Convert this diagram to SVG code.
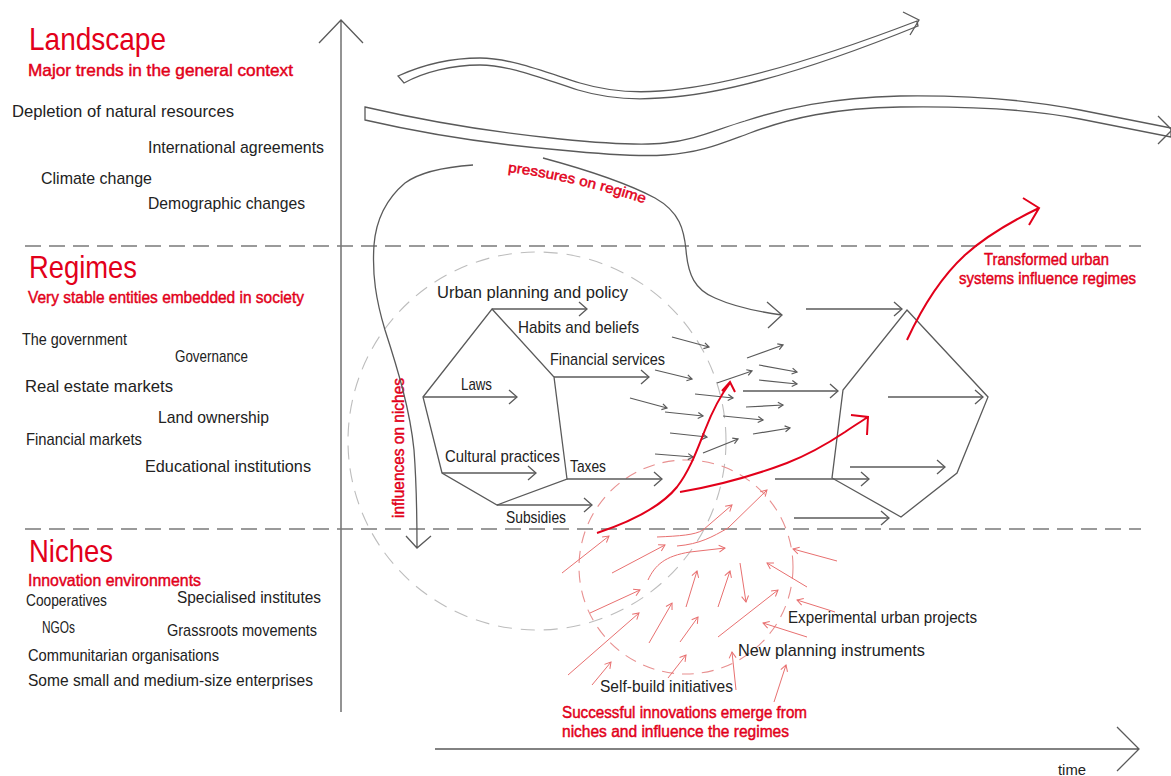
<svg xmlns="http://www.w3.org/2000/svg" width="1171" height="776" viewBox="0 0 1171 776">
<defs>
<style>
text{font-family:"Liberation Sans",Arial,sans-serif;}
.k{fill:#222;font-size:17px;}
.c{fill:#222;font-size:17px;}
.h{fill:#e2001a;font-size:32px;}
.s{fill:#e2001a;font-size:17px;stroke:#e2001a;stroke-width:0.45;}
.r{fill:#e2001a;font-size:16px;stroke:#e2001a;stroke-width:0.45;}
.ln{fill:none;stroke:#5a5a5a;stroke-width:1.3;}
.big{fill:none;stroke:#5a5a5a;stroke-width:1.3;marker-end:url(#mb);}
.sm{fill:none;stroke:#5a5a5a;stroke-width:1.2;marker-end:url(#ms);}
.nr{fill:none;stroke:#e87070;stroke-width:1;marker-end:url(#mr);}
.red{fill:none;stroke:#e2001a;stroke-width:2;}
.dash{fill:none;stroke:#7a7a7a;stroke-width:1.3;stroke-dasharray:16 8;}
</style>
<marker id="mb" viewBox="-10 -10 20 20" markerWidth="20" markerHeight="20" refX="0" refY="0" orient="auto" markerUnits="userSpaceOnUse"><path d="M-8,-7 L0,0 L-8,7" fill="none" stroke="#5a5a5a" stroke-width="1.3"/></marker>
<marker id="ms" viewBox="-10 -10 20 20" markerWidth="20" markerHeight="20" refX="0" refY="0" orient="auto" markerUnits="userSpaceOnUse"><path d="M-5,-3 L0,0 L-5,3" fill="none" stroke="#5a5a5a" stroke-width="1.2"/></marker>
<marker id="mr" viewBox="-10 -10 20 20" markerWidth="20" markerHeight="20" refX="0" refY="0" orient="auto" markerUnits="userSpaceOnUse"><path d="M-6,-3.5 L0,0 L-6,3.5" fill="none" stroke="#e87070" stroke-width="1"/></marker>
<path id="pp" d="M508,172 C550,177 600,189 643,203"/>
</defs>
<rect width="1171" height="776" fill="#fff"/>

<g id="axes">
<path class="ln" d="M341,712 L341,20 M319,43 L341,20 L363,43"/>
<path class="ln" d="M435,749 L1139,749 M1117,727 L1139,749 L1117,771"/>
<text x="1058" y="775" class="k" style="font-size:14px" textLength="28" lengthAdjust="spacingAndGlyphs">time</text>
</g>

<g id="dividers">
<path class="dash" d="M25,246 L1141,246"/>
<path class="dash" d="M25,529 L1141,529"/>
</g>

<g id="circles">
<circle cx="537" cy="441" r="189" fill="none" stroke="#bdbdbd" stroke-width="1.1" stroke-dasharray="14 9"/>
<circle cx="686" cy="567" r="107" fill="none" stroke="#e89090" stroke-width="1.1" stroke-dasharray="12 8"/>
</g>

<g id="landscape-label">
<text x="29" y="50" class="h" textLength="137" lengthAdjust="spacingAndGlyphs">Landscape</text>
<text x="28" y="76" class="s" textLength="265" lengthAdjust="spacingAndGlyphs">Major trends in the general context</text>
<text x="12" y="117" class="k" textLength="222" lengthAdjust="spacingAndGlyphs">Depletion of natural resources</text>
<text x="148" y="153" class="k" textLength="176" lengthAdjust="spacingAndGlyphs">International agreements</text>
<text x="41" y="184" class="k" textLength="111" lengthAdjust="spacingAndGlyphs">Climate change</text>
<text x="148" y="209" class="k" textLength="157" lengthAdjust="spacingAndGlyphs">Demographic changes</text>
</g>

<g id="regimes-label">
<text x="29" y="278" class="h" textLength="108" lengthAdjust="spacingAndGlyphs">Regimes</text>
<text x="28" y="303" class="s" textLength="276" lengthAdjust="spacingAndGlyphs">Very stable entities embedded in society</text>
<text x="22" y="345" class="k" textLength="105" lengthAdjust="spacingAndGlyphs">The government</text>
<text x="175" y="362" class="k" textLength="73" lengthAdjust="spacingAndGlyphs">Governance</text>
<text x="25" y="392" class="k" textLength="148" lengthAdjust="spacingAndGlyphs">Real estate markets</text>
<text x="158" y="423" class="k" textLength="111" lengthAdjust="spacingAndGlyphs">Land ownership</text>
<text x="26" y="445" class="k" textLength="116" lengthAdjust="spacingAndGlyphs">Financial markets</text>
<text x="145" y="472" class="k" textLength="166" lengthAdjust="spacingAndGlyphs">Educational institutions</text>
</g>

<g id="niches-label">
<text x="29" y="562" class="h" textLength="84" lengthAdjust="spacingAndGlyphs">Niches</text>
<text x="28" y="586" class="s" textLength="173" lengthAdjust="spacingAndGlyphs">Innovation environments</text>
<text x="26" y="606" class="k" textLength="81" lengthAdjust="spacingAndGlyphs">Cooperatives</text>
<text x="177" y="603" class="k" textLength="144" lengthAdjust="spacingAndGlyphs">Specialised institutes</text>
<text x="42" y="633" class="k" textLength="33" lengthAdjust="spacingAndGlyphs">NGOs</text>
<text x="167" y="636" class="k" textLength="150" lengthAdjust="spacingAndGlyphs">Grassroots movements</text>
<text x="28" y="661" class="k" textLength="191" lengthAdjust="spacingAndGlyphs">Communitarian organisations</text>
<text x="28" y="686" class="k" textLength="285" lengthAdjust="spacingAndGlyphs">Some small and medium-size enterprises</text>
</g>

<g id="landscape-trends">
<path d="M398,76 C420,66 450,58 480,58 C510,58 545,72 580,83 C610,92 635,93 660,91 C720,87 810,62 917,21 L918,26 C812,69 722,95 660,98 C635,100 608,99 578,90 C543,79 510,65 480,65 C452,65 424,72 404,83 Z" fill="#fff" stroke="#5a5a5a" stroke-width="1.3"/>
<path class="ln" d="M903,12 L919,20 L910,35"/>
<path d="M365,107 C430,122 500,133 560,139 C600,143 640,146 665,143 C695,140 715,130 745,121 C785,108 830,98 900,96 C970,95 1030,100 1080,110 C1120,118 1150,124 1171,128 L1171,137 C1150,133 1120,127 1080,119 C1030,109 970,106 900,107 C835,108 790,118 750,133 C720,144 700,153 665,155 C635,157 600,154 560,150 C500,145 430,135 365,120 Z" fill="#fff" stroke="#5a5a5a" stroke-width="1.3"/>
<path class="ln" d="M1158,116 L1172,130 L1158,144"/>
</g>

<g id="regime-left">
<path class="ln" d="M492,309 L554,377 L567,479 L497,505 L442,473 L423,397 Z"/>
<text x="437" y="298" class="c" textLength="191" lengthAdjust="spacingAndGlyphs">Urban planning and policy</text>
<text x="518" y="333" class="c" textLength="121" lengthAdjust="spacingAndGlyphs">Habits and beliefs</text>
<text x="550" y="365" class="c" textLength="115" lengthAdjust="spacingAndGlyphs">Financial services</text>
<text x="461" y="390" class="c" textLength="31" lengthAdjust="spacingAndGlyphs">Laws</text>
<text x="445" y="462" class="c" textLength="115" lengthAdjust="spacingAndGlyphs">Cultural practices</text>
<text x="570" y="472" class="c" textLength="36" lengthAdjust="spacingAndGlyphs">Taxes</text>
<text x="506" y="523" class="c" textLength="60" lengthAdjust="spacingAndGlyphs">Subsidies</text>
</g>

<g id="regime-right">
<path class="ln" d="M907,310 L988,397 L957,473 L901,517 L832,478 L843,390 Z"/>
</g>

<g id="labels-red">
<text class="r" style="font-size:14px"><textPath href="#pp" textLength="140" lengthAdjust="spacingAndGlyphs">pressures on regime</textPath></text>
<text x="404" y="518" class="r" transform="rotate(-90 404 518)" textLength="140" lengthAdjust="spacingAndGlyphs">influences on niches</text>
<text x="984" y="265" class="r" textLength="125" lengthAdjust="spacingAndGlyphs">Transformed urban</text>
<text x="959" y="284" class="r" textLength="177" lengthAdjust="spacingAndGlyphs">systems influence regimes</text>
<text x="562" y="718" class="r" textLength="245" lengthAdjust="spacingAndGlyphs">Successful innovations emerge from</text>
<text x="562" y="737" class="r" textLength="227" lengthAdjust="spacingAndGlyphs">niches and influence the regimes</text>
</g>

<g id="niche-items">
<text x="600" y="692" class="c" textLength="133" lengthAdjust="spacingAndGlyphs">Self-build initiatives</text>
<text x="738" y="656" class="c" textLength="187" lengthAdjust="spacingAndGlyphs">New planning instruments</text>
<text x="788" y="623" class="c" textLength="189" lengthAdjust="spacingAndGlyphs">Experimental urban projects</text>
</g>

<g id="connectors">
<path class="ln" d="M473,165 C445,167 420,172 405,183 C385,200 376,220 374,245 C372,275 376,300 385,330 C398,370 410,410 414,450 C417,490 417,520 417,548 M406,536 L417,548 L431,536"/>
<path class="ln" d="M543,158 C580,168 625,182 655,198 C680,212 684,230 686,250 C688,275 695,290 715,298 C735,307 760,312 782,315 M767,302 L782,315 L768,328"/>

<path class="big" d="M492,309 L587,309"/>
<path class="big" d="M554,377 L649,377"/>
<path class="big" d="M423,397 L517,397"/>
<path class="big" d="M442,473 L536,473"/>
<path class="big" d="M567,479 L662,479"/>
<path class="big" d="M497,505 L592,505"/>
<path class="big" d="M806,309 L902,309"/>
<path class="big" d="M743,391 L838,391"/>
<path class="big" d="M888,397 L983,397"/>
<path class="big" d="M850,467 L945,467"/>
<path class="big" d="M775,479 L869,479"/>
<path class="big" d="M794,518 L889,518"/>

<path class="sm" d="M672,337 L709,347"/>
<path class="sm" d="M655,370 L692,379"/>
<path class="sm" d="M630,398 L667,408"/>
<path class="sm" d="M665,412 L703,416"/>
<path class="sm" d="M695,394 L733,398"/>
<path class="sm" d="M670,433 L707,437"/>
<path class="sm" d="M655,454 L693,457"/>
<path class="sm" d="M703,453 L738,439"/>
<path class="sm" d="M717,383 L752,371"/>
<path class="sm" d="M747,358 L783,345"/>
<path class="sm" d="M759,365 L797,372"/>
<path class="sm" d="M759,380 L797,384"/>
<path class="sm" d="M746,407 L783,405"/>
<path class="sm" d="M723,416 L763,420"/>
<path class="sm" d="M753,434 L790,428"/>

<path class="nr" d="M562,573 L609,536"/>
<path class="nr" d="M612,573 L665,545"/>
<path class="nr" d="M648,580 C655,565 665,556 690,552 L725,548"/>
<path class="nr" d="M657,537 C680,536 695,535 703,530 L732,505"/>
<path class="nr" d="M677,546 C700,544 712,537 728,528 L767,490"/>
<path class="nr" d="M590,613 L640,590"/>
<path class="nr" d="M568,675 L639,613"/>
<path class="nr" d="M649,643 L672,603"/>
<path class="nr" d="M680,642 L698,617"/>
<path class="nr" d="M686,607 L697,571"/>
<path class="nr" d="M718,607 L730,571"/>
<path class="nr" d="M740,563 L746,602"/>
<path class="nr" d="M718,637 L778,590"/>
<path class="nr" d="M807,587 L767,563"/>
<path class="nr" d="M837,561 L793,549"/>
<path class="nr" d="M835,612 L797,600"/>
<path class="nr" d="M807,637 L763,623"/>
<path class="nr" d="M736,690 L732,652"/>
<path class="nr" d="M774,702 L786,665"/>
<path class="nr" d="M592,685 L611,662"/>
<path class="nr" d="M668,678 L686,655"/>

<path class="red" d="M597,533 C630,522 660,508 677,487 C690,470 697,450 705,430 C712,412 720,396 730,383 M722,391 L730,382 L735,392"/>
<path class="red" d="M680,492 C710,487 750,477 787,463 C810,454 830,442 845,432 C855,425 862,421 868,417 M851,415 L868,417 L867,435"/>
<path class="red" d="M907,340 C920,312 940,278 965,255 C985,237 1010,222 1039,208 M1023,198 L1039,208 L1029,225"/>
</g>
</svg>
